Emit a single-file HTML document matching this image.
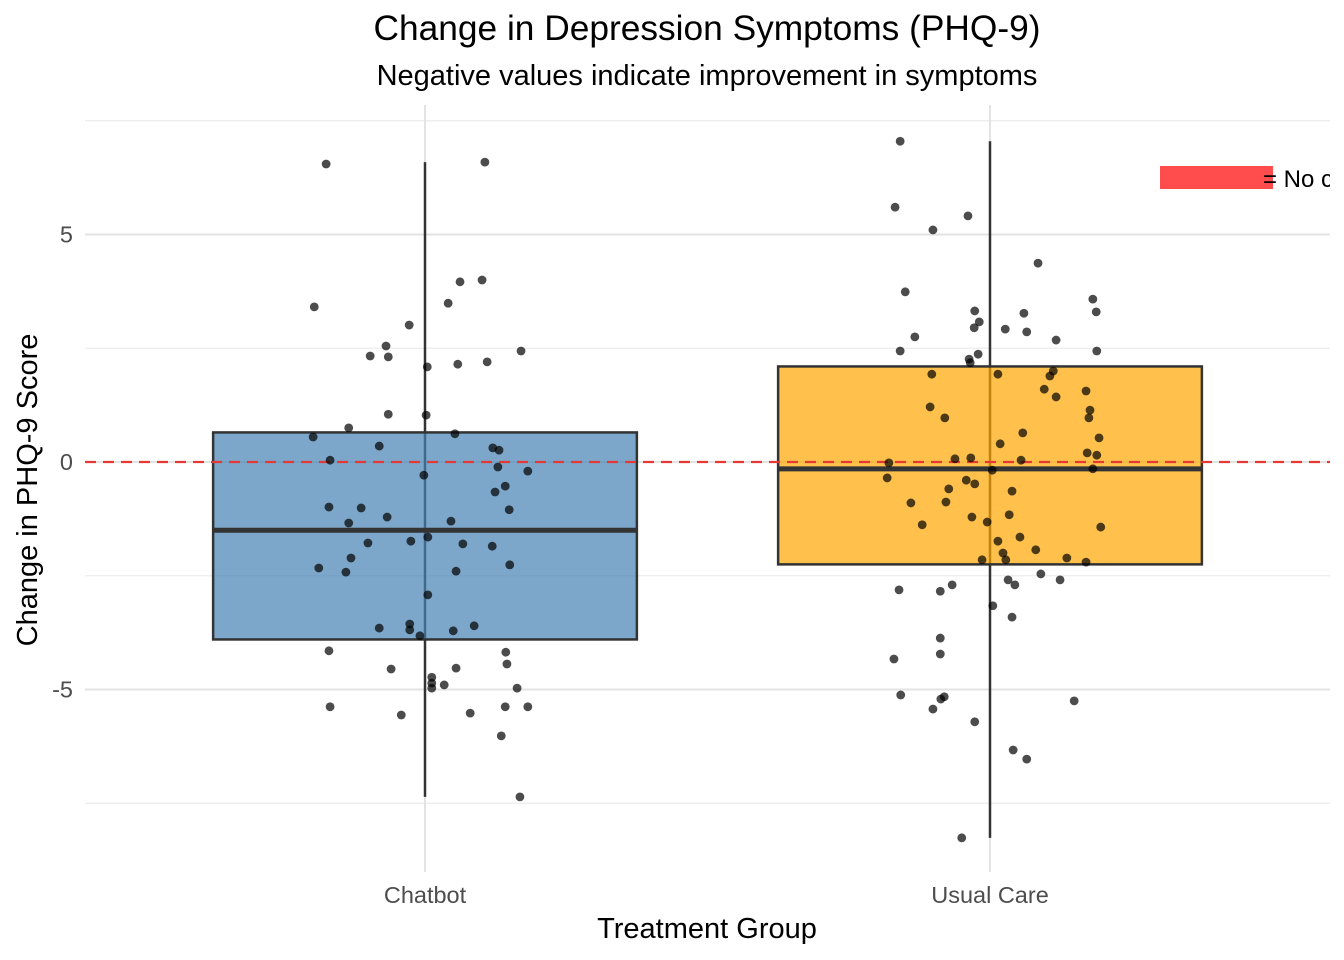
<!DOCTYPE html>
<html><head><meta charset="utf-8"><style>
html,body{margin:0;padding:0;background:#fff;}
svg{display:block;font-family:"Liberation Sans",sans-serif;}
</style></head><body>
<svg id="chart" width="1344" height="960" viewBox="0 0 1344 960">
<defs><clipPath id="pc"><rect x="0" y="0" width="1330" height="960"/></clipPath></defs>
<text x="707" y="40" font-size="35.3" text-anchor="middle" fill="#000">Change in Depression Symptoms (PHQ-9)</text>
<text x="707" y="85" font-size="29" text-anchor="middle" fill="#000">Negative values indicate improvement in symptoms</text>
<g id="grid"></g>
<g id="boxes"></g>
<g id="pts"></g>
<g id="axes"></g>
<g clip-path="url(#pc)">
<rect x="1160" y="166" width="113" height="23" fill="#ff4d4d"/>
<text x="1263" y="187" font-size="24" fill="#000">= No c<tspan>hange</tspan></text>
</g>
<text x="707" y="938" font-size="29" text-anchor="middle" fill="#000">Treatment Group</text>
<text transform="translate(37,490) rotate(-90)" font-size="29" text-anchor="middle" fill="#000">Change in PHQ-9 Score</text>
</svg>
<script>
const categories = ["Chatbot","Usual Care"];
const yTicks = [-5,0,5];
const yMinor = [-7.5,-2.5,2.5,7.5];
const boxQ1 = [-3.9,-2.25];
const boxMedian = [-1.5,-0.15];
const boxQ3 = [0.65,2.1];
const whiskerLow = [-7.36,-8.26];
const whiskerHigh = [6.59,7.05];
const refLine = 0;
const chatbotValues = [6.55,6.59,3.41,3.96,4.00,3.49,3.01,2.55,2.33,2.31,2.09,2.15,2.20,2.44,1.05,1.03,0.75,0.55,0.62,0.35,0.31,0.26,0.04,-0.11,-0.20,-0.29,-0.53,-0.66,-0.99,-1.01,-1.21,-1.34,-1.30,-1.05,-1.78,-1.65,-1.74,-1.80,-1.85,-2.11,-2.33,-2.42,-2.40,-2.26,-2.92,-3.65,-3.56,-3.69,-3.82,-3.71,-3.60,-4.15,-4.18,-4.55,-4.53,-4.44,-4.73,-4.86,-4.97,-4.90,-4.97,-5.38,-5.56,-5.52,-5.38,-5.38,-6.02,-7.36];
const chatbotJitter = [-0.175,0.106,-0.196,0.062,0.101,0.041,-0.028,-0.069,-0.097,-0.065,0.004,0.058,0.110,0.170,-0.065,0.002,-0.135,-0.198,0.053,-0.081,0.120,0.131,-0.168,0.129,0.182,-0.002,0.142,0.124,-0.170,-0.113,-0.067,-0.135,0.046,0.149,-0.101,0.005,-0.025,0.067,0.119,-0.131,-0.188,-0.140,0.055,0.150,0.005,-0.081,-0.027,-0.027,-0.009,0.050,0.087,-0.170,0.143,-0.060,0.055,0.145,0.012,0.012,0.012,0.034,0.163,-0.168,-0.042,0.080,0.142,0.182,0.135,0.168];
const usualValues = [7.05,5.60,5.41,5.10,4.37,3.74,3.58,3.32,3.27,3.30,3.08,2.95,2.92,2.86,2.75,2.68,2.44,2.37,2.26,2.18,2.44,1.93,1.93,2.00,1.89,1.60,1.56,1.43,1.21,0.97,1.14,0.97,0.64,0.40,0.53,0.20,0.15,-0.02,0.07,0.09,0.04,-0.18,-0.15,-0.35,-0.40,-0.48,-0.59,-0.64,-0.90,-0.88,-1.21,-1.32,-1.16,-1.38,-1.43,-1.65,-1.74,-1.93,-2.00,-2.15,-2.15,-2.11,-2.20,-2.46,-2.59,-2.59,-2.70,-2.70,-2.81,-2.84,-3.16,-3.41,-3.87,-4.22,-4.33,-5.12,-5.16,-5.21,-5.43,-5.25,-5.71,-6.33,-6.53,-8.26];
const usualJitter = [-0.159,-0.168,-0.039,-0.101,0.085,-0.150,0.182,-0.027,0.060,0.188,-0.019,-0.028,0.027,0.065,-0.133,0.117,-0.159,-0.021,-0.037,-0.035,0.189,-0.103,0.014,0.112,0.106,0.096,0.170,0.117,-0.106,-0.080,0.177,0.175,0.058,0.018,0.193,0.172,0.189,-0.179,-0.062,-0.034,0.055,0.004,0.182,-0.182,-0.042,-0.027,-0.073,0.039,-0.140,-0.078,-0.032,-0.005,0.034,-0.120,0.196,0.053,0.014,0.081,0.023,0.028,-0.014,0.136,0.170,0.090,0.124,0.032,0.044,-0.067,-0.161,-0.088,0.005,0.039,-0.088,-0.088,-0.170,-0.158,-0.081,-0.087,-0.101,0.149,-0.027,0.041,0.065,-0.050];

const NS="http://www.w3.org/2000/svg";
const L=85,R=1330;
function yS(v){return 462-v*45.5;}
function xS(i){return 425+i*565;}
const boxHalf=0.375*565;
function mk(tag,attrs,parent){const e=document.createElementNS(NS,tag);for(const k in attrs)e.setAttribute(k,attrs[k]);parent.appendChild(e);return e;}
const grid=document.getElementById('grid'),boxes=document.getElementById('boxes'),pts=document.getElementById('pts'),axes=document.getElementById('axes');
yMinor.forEach(v=>{const l=mk('line',{x1:L,x2:R,y1:yS(v),y2:yS(v),stroke:'#ebebeb','stroke-width':1.2},grid);

});
yTicks.forEach(v=>{const l=mk('line',{x1:L,x2:R,y1:yS(v),y2:yS(v),stroke:'#e3e3e3','stroke-width':2},grid);


const t=mk('text',{x:73,y:yS(v)+8,'font-size':23.5,'text-anchor':'end',fill:'#4d4d4d'},axes);t.textContent=String(v);

});
categories.forEach((c,i)=>{const l=mk('line',{x1:xS(i),x2:xS(i),y1:105,y2:872,stroke:'#e3e3e3','stroke-width':2},grid);


const t=mk('text',{x:xS(i),y:903,'font-size':23.5,'text-anchor':'middle',fill:'#4d4d4d'},axes);t.textContent=c;

});
const fills=['rgba(70,130,180,0.7)','rgba(255,165,0,0.7)'];
categories.forEach((c,i)=>{
const w=mk('line',{x1:xS(i),x2:xS(i),y1:yS(whiskerHigh[i]),y2:yS(whiskerLow[i]),stroke:'#333','stroke-width':2.5},boxes);


const b=mk('rect',{x:xS(i)-boxHalf,y:yS(boxQ3[i]),width:boxHalf*2,height:yS(boxQ1[i])-yS(boxQ3[i]),fill:fills[i],stroke:'#333','stroke-width':2.5},boxes);


const m=mk('line',{x1:xS(i)-boxHalf,x2:xS(i)+boxHalf,y1:yS(boxMedian[i]),y2:yS(boxMedian[i]),stroke:'#333','stroke-width':5},boxes);

});
const rl=mk('line',{x1:L,x2:R,y1:yS(refLine),y2:yS(refLine),stroke:'#e53935','stroke-width':2.2,'stroke-dasharray':'11,7'},boxes);


[[chatbotValues,chatbotJitter],[usualValues,usualJitter]].forEach(([vals,jit],i)=>{
vals.forEach((v,k)=>{const p=mk('circle',{cx:xS(i+jit[k]),cy:yS(v),r:4.4,fill:'rgba(0,0,0,0.7)'},pts);

});});
</script>
</body></html>
